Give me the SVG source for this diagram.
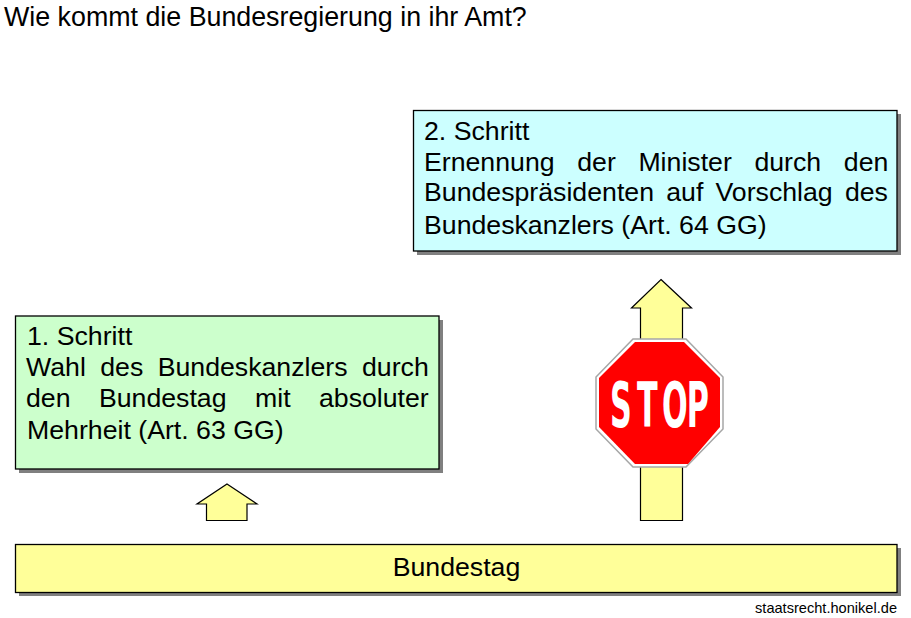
<svg xmlns="http://www.w3.org/2000/svg" width="911" height="618" viewBox="0 0 911 618">
<style>
text{font-family:"Liberation Sans",Arial,sans-serif;fill:#000;font-size:26.7px}
.box{stroke:#000;stroke-width:1.3}
.sh{fill:#808080}
.arrow{fill:#ffff99;stroke:#000;stroke-width:1.2;stroke-linejoin:miter}
</style>
<rect width="911" height="618" fill="#fff"/>
<text id="title" x="4" y="26" style="font-size:26.8px">Wie kommt die Bundesregierung in ihr Amt?</text>
<g id="schritt2">
<rect class="sh" x="417" y="114" width="484" height="141"/>
<rect class="box" x="413.5" y="110.5" width="483.5" height="140.5" fill="#ccffff"/>
<text x="424" y="140">2. Schritt</text>
<text x="424" y="171" word-spacing="15.2">Ernennung der Minister durch den</text>
<text x="424" y="201" word-spacing="4.8">Bundespräsidenten auf Vorschlag des</text>
<text x="424" y="234">Bundeskanzlers (Art. 64 GG)</text>
</g>
<g id="schritt1">
<rect class="sh" x="19" y="320" width="424" height="153"/>
<rect class="box" x="15.5" y="316" width="423.5" height="153" fill="#ccffcc"/>
<text x="27" y="345">1. Schritt</text>
<text x="26" y="376" word-spacing="7">Wahl des Bundeskanzlers durch</text>
<text x="26" y="407" word-spacing="21">den Bundestag mit absoluter</text>
<text x="27" y="439">Mehrheit (Art. 63 GG)</text>
</g>
<g id="connectors">
<path class="arrow" d="M227 484L257 504H247V520.5H206.5V504H197Z"/>
<path class="arrow" d="M661 279.5L691.5 308H682.5V520.5H640.5V308H631.5Z"/>
</g>
<g id="stop">
<polygon points="633,339 686,339 723,377 723,429 686,467 633,467 596,429 596,377" fill="#fff" stroke="#a6a6a6" stroke-width="1.5"/>
<polygon points="635,342 684,342 720,378 720,427 688,464 635,464 599,427 599,378" fill="#ff0000"/>
<text transform="translate(0,427) scale(.48,1)" x="1271 1327 1379 1431" y="0" style="font-family:'DejaVu Sans','Liberation Sans',sans-serif;font-weight:bold;font-size:63px;fill:#fff">STOP</text>
</g>
<g id="bundestag">
<rect class="sh" x="19" y="548" width="882" height="48"/>
<rect class="box" x="15.5" y="544.5" width="881.5" height="48" fill="#ffff99"/>
<text x="456.5" y="576" text-anchor="middle">Bundestag</text>
</g>
<text id="source" x="897" y="613" text-anchor="end" style="font-size:14.6px">staatsrecht.honikel.de</text>
</svg>
